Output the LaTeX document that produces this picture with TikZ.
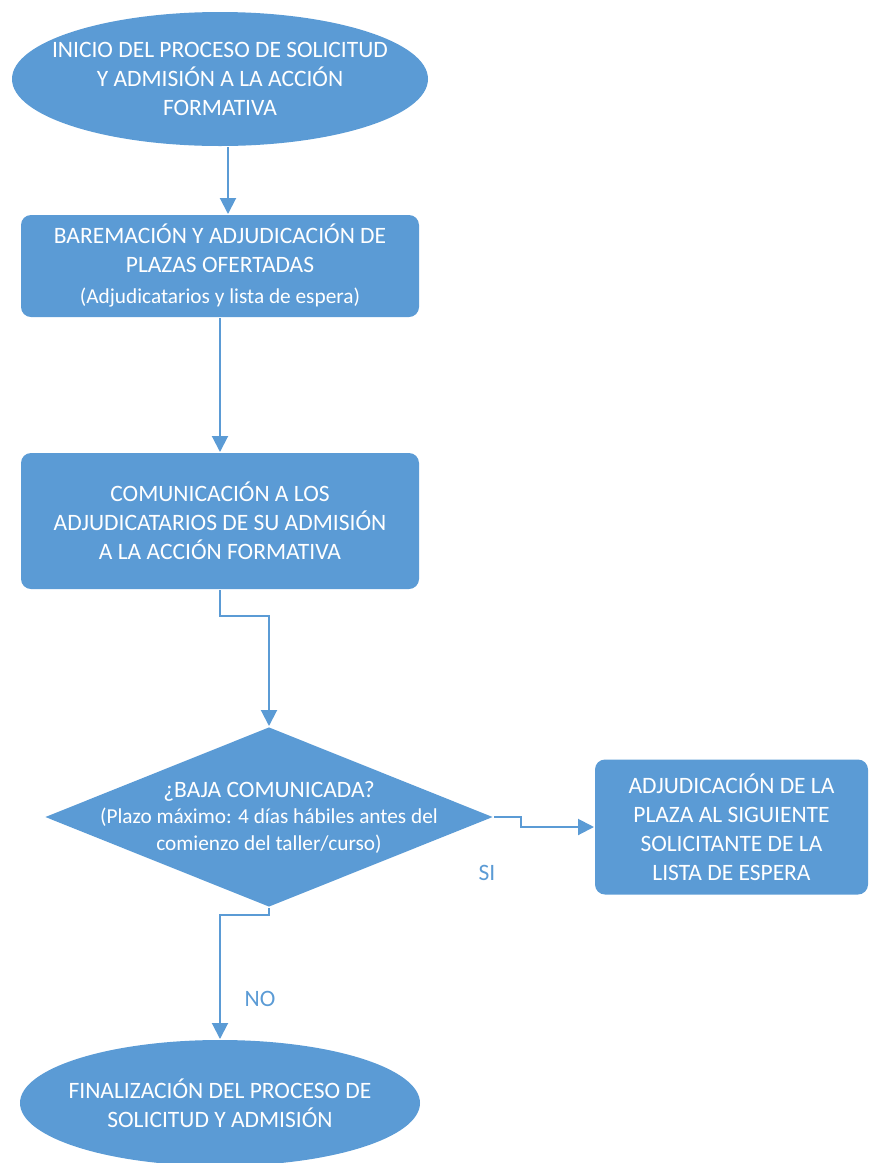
\documentclass[tikz,border=0pt]{standalone}
\usepackage{fontspec}
\setmainfont{Carlito}
\usetikzlibrary{shapes.geometric, arrows.meta, positioning}
\definecolor{ofblue}{HTML}{5B9BD5}
\newcommand{\nota}{\fontsize{21.3}{26.5}\selectfont}

\begin{document}
\begin{tikzpicture}[x=1pt, y=-1pt, font=\fontsize{23.5}{29}\selectfont, line width=2pt,
    terminal/.style={ellipse, fill=ofblue, inner sep=0pt},
    decision/.style={diamond, fill=ofblue, inner sep=0pt},
    proceso/.style={rectangle, rounded corners=10pt, fill=ofblue, text=white, align=center, inner sep=0pt},
    texto/.style={text=white, align=center, inner sep=0pt},
    etiqueta/.style={text=ofblue},
    flecha/.style={draw=ofblue, -{Triangle[width=16pt,length=16pt]}}]
    \useasboundingbox (0,0) rectangle (869,1163);
    \node[terminal, minimum width=416pt, minimum height=134pt] (inicio) at (220,79) {};
    \node[texto] (inicio-txt) at (inicio) {INICIO DEL PROCESO DE SOLICITUD\\Y ADMISIÓN A LA ACCIÓN\\FORMATIVA};
    \node[proceso, minimum width=398pt, minimum height=102pt] (baremacion) at (220,266) {BAREMACIÓN Y ADJUDICACIÓN DE\\PLAZAS OFERTADAS\\[2pt]{\nota(Adjudicatarios y lista de espera)}};
    \node[proceso, minimum width=398pt, minimum height=136pt] (comunicacion) at (220,521) {COMUNICACIÓN A LOS\\ADJUDICATARIOS DE SU ADMISIÓN\\A LA ACCIÓN FORMATIVA};
    \node[decision, minimum width=448pt, minimum height=180pt] (baja) at (269,817) {};
    \node[texto, font=\fontsize{23.5}{26.5}\selectfont] (baja-txt) at (baja) {¿BAJA COMUNICADA?\\{\nota(Plazo máximo: 4 días hábiles antes del}\\{\nota comienzo del taller/curso)}};
    \node[proceso, minimum width=273pt, minimum height=135pt] (siguiente) at (731.5,827) {ADJUDICACIÓN DE LA\\PLAZA AL SIGUIENTE\\SOLICITANTE DE LA\\LISTA DE ESPERA};
    \node[terminal, minimum width=400pt, minimum height=126pt] (fin) at (220,1103) {};
    \node[texto] (fin-txt) at (fin) {FINALIZACIÓN DEL PROCESO DE\\SOLICITUD Y ADMISIÓN};
    \node[etiqueta] (si) at (487,873) {SI};
    \node[etiqueta] (no) at (260,999) {NO};
    \draw[flecha] ([xshift=8pt]inicio.south) -- ([xshift=8pt]baremacion.north);
    \draw[flecha] (baremacion.south) -- (comunicacion.north);
    \draw[flecha] (comunicacion.south) -- ++(0,26) -| (baja.north);
    \draw[flecha] (baja.east) -- ++(27,0) |- (siguiente.west);
    \draw[flecha] (baja.south) -- ++(0,7) -| (fin.north);
\end{tikzpicture}
\end{document}
